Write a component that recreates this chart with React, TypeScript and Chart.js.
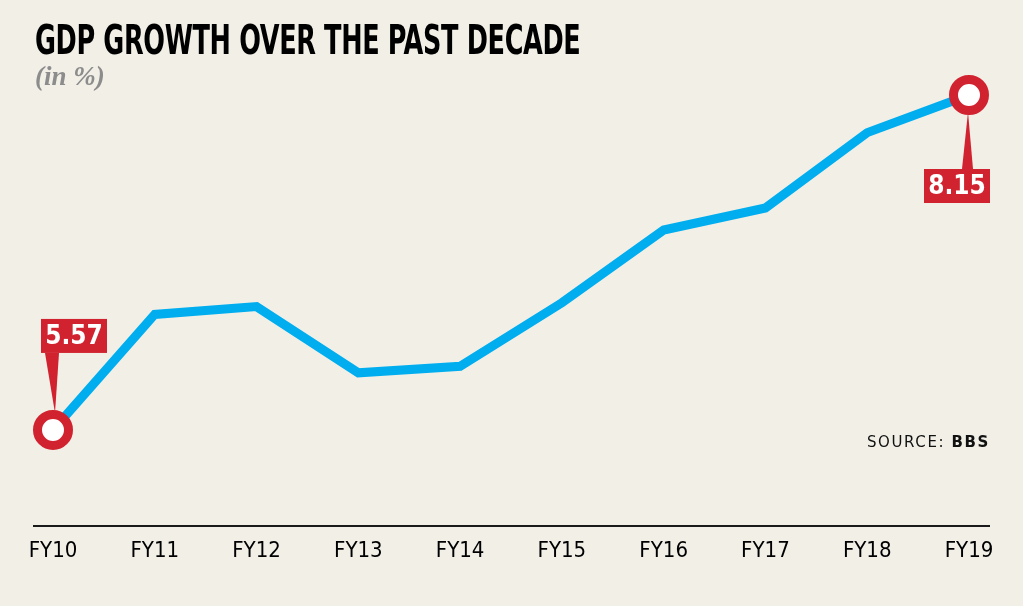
import React, { useEffect, useRef } from "react";
import { Chart, registerables } from "chart.js";

Chart.register(...registerables);

const categories = ["FY10", "FY11", "FY12", "FY13", "FY14", "FY15", "FY16", "FY17", "FY18", "FY19"];
const gdpGrowth = [5.57, 6.46, 6.52, 6.01, 6.06, 6.55, 7.11, 7.28, 7.86, 8.15];
const calloutLabels = ["5.57", "8.15"];

const NARROW = '"Liberation Sans Narrow", "DejaVu Sans Condensed", "Roboto Condensed", sans-serif';
const RED = "#d1232f";
const BLUE = "#00aeef";
const BG = "#f2efe7";

const calloutPlugin = {
  id: "callouts",
  beforeDatasetsDraw(chart: any) {
    const meta = chart.getDatasetMeta(0);
    const ctx = chart.ctx;
    const n = meta.data.length;
    const items = [
      { idx: 0, text: calloutLabels[0], above: true },
      { idx: n - 1, text: calloutLabels[1], above: false },
    ];
    ctx.save();
    for (const it of items) {
      const p = meta.data[it.idx];
      const x = p.x;
      const y = p.y;
      let bx: number, by: number;
      const bw = 66, bh = 34;
      ctx.fillStyle = RED;
      ctx.beginPath();
      if (it.above) {
        bx = x - 12;
        by = y - 77 - bh;
        ctx.moveTo(x - 8, by + bh);
        ctx.lineTo(x + 6, by + bh);
        ctx.lineTo(x + 2, y - 17);
      } else {
        bx = x - 45;
        by = y + 74;
        ctx.moveTo(x - 7, by);
        ctx.lineTo(x + 4, by);
        ctx.lineTo(x - 1, y + 17);
      }
      ctx.closePath();
      ctx.fill();
      ctx.fillRect(bx, by, bw, bh);
      ctx.fillStyle = "#ffffff";
      ctx.font = `bold 26px ${NARROW}`;
      ctx.textAlign = "center";
      ctx.textBaseline = "middle";
      ctx.fillText(it.text, bx + bw / 2, by + bh / 2 + 1);
    }
    ctx.restore();
  },
};

const axisLinePlugin = {
  id: "axisLine",
  afterDraw(chart: any) {
    const { ctx, chartArea } = chart;
    ctx.save();
    ctx.strokeStyle = "#1a1a1a";
    ctx.lineWidth = 2;
    ctx.beginPath();
    ctx.moveTo(chartArea.left - 20, chartArea.bottom);
    ctx.lineTo(chartArea.right + 21, chartArea.bottom);
    ctx.stroke();
    ctx.restore();
  },
};

export default function App() {
  const ref = useRef<HTMLCanvasElement>(null);
  useEffect(() => {
    if (!ref.current) return;
    const n = gdpGrowth.length;
    const radii = gdpGrowth.map((_, i) => (i === 0 || i === n - 1 ? 15.5 : 0));
    const chart = new Chart(ref.current, {
      type: "line",
      data: {
        labels: categories,
        datasets: [
          {
            data: gdpGrowth,
            borderColor: BLUE,
            borderWidth: 9,
            tension: 0,
            fill: false,
            clip: false as any,
            pointRadius: radii,
            pointHoverRadius: radii,
            pointBackgroundColor: "#ffffff",
            pointBorderColor: RED,
            pointBorderWidth: 9,
          },
        ],
      },
      options: {
        responsive: false,
        animation: false,
        events: [],
        layout: { padding: { left: 53, right: 54, top: 95, bottom: 30 } },
        plugins: { legend: { display: false }, tooltip: { enabled: false }, title: { display: false } },
        scales: {
          x: {
            type: "category",
            offset: false,
            grid: { display: false, drawTicks: false },
            border: { display: false },
            ticks: {
              color: "#000000",
              font: { family: NARROW, size: 22 },
              padding: 11.8,
              maxRotation: 0,
              autoSkip: false,
            },
          },
          y: {
            display: false,
            min: 4.83,
            max: 8.15,
          },
        },
      },
      plugins: [calloutPlugin, axisLinePlugin],
    });
    return () => chart.destroy();
  }, []);

  return (
    <div style={{ position: "fixed", left: 0, top: 0, width: 1023, height: 606, background: BG, overflow: "hidden" }}>
      <canvas ref={ref} width={1023} height={606} style={{ position: "absolute", left: 0, top: 0 }} />
      <div
        style={{
          position: "absolute",
          left: 35,
          top: 20,
          fontFamily: NARROW,
          fontWeight: "bold",
          fontSize: 40,
          lineHeight: 1,
          color: "#000",
          whiteSpace: "nowrap",
          letterSpacing: -0.5,
          transform: "scaleX(0.71)",
          transformOrigin: "left top",
        }}
      >
        GDP GROWTH OVER THE PAST DECADE
      </div>
      <div
        style={{
          position: "absolute",
          left: 35,
          top: 63,
          fontFamily: '"Liberation Serif", serif',
          fontStyle: "italic",
          fontWeight: "bold",
          fontSize: 27,
          lineHeight: 1,
          color: "#8c8c8c",
          whiteSpace: "nowrap",
        }}
      >
        (in %)
      </div>
      <div
        style={{
          position: "absolute",
          right: 1023 - 990,
          top: 435,
          fontFamily: '"DejaVu Sans", sans-serif',
          fontSize: 15,
          lineHeight: 1,
          color: "#111",
          whiteSpace: "nowrap",
          letterSpacing: 1.6,
        }}
      >
        SOURCE: <b>BBS</b>
      </div>
    </div>
  );
}
